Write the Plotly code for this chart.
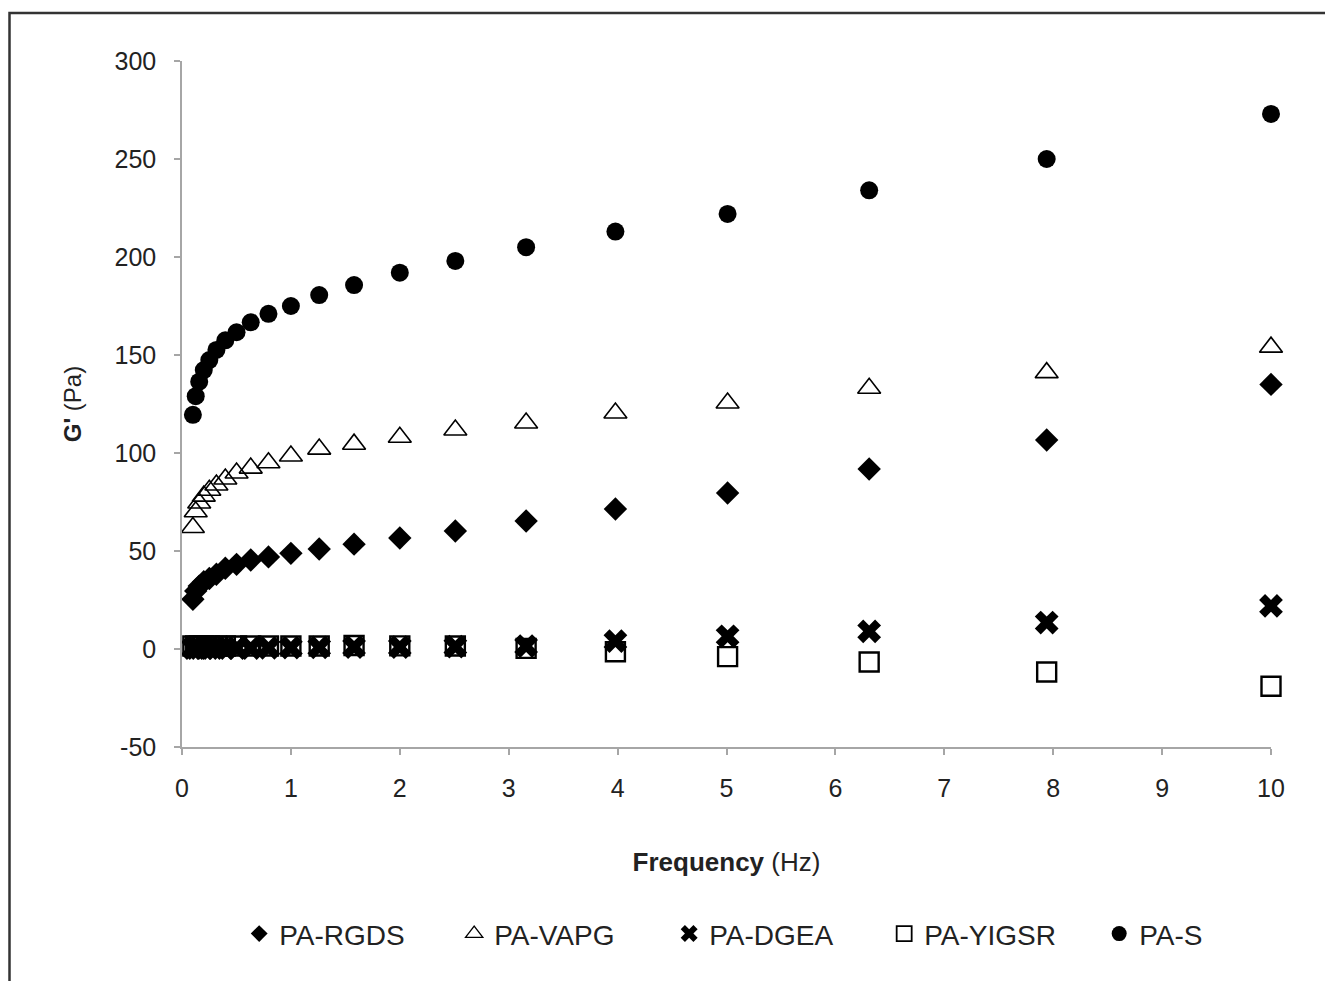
import plotly.graph_objects as go

freq = [0.1, 0.126, 0.158, 0.2, 0.251, 0.316, 0.398, 0.501, 0.631, 0.794,
        1.0, 1.26, 1.58, 2.0, 2.51, 3.16, 3.98, 5.01, 6.31, 7.94, 10.0]

pa_rgds = [25.4, 29.6, 32.1, 34.3, 36.0, 38.1, 41.2, 43.2, 45.4, 47.0,
           48.8, 51.0, 53.5, 56.6, 60.2, 65.3, 71.4, 79.6, 91.8, 106.6, 135.0]
pa_vapg = [62.0, 70.0, 74.5, 78.0, 81.0, 83.7, 86.7, 89.8, 92.3, 95.0,
           98.5, 102.0, 104.5, 108.0, 111.7, 115.3, 120.4, 125.5, 133.0, 141.0, 154.0]
pa_dgea = [0.5, 0.5, 0.5, 0.5, 0.5, 0.5, 0.5, 0.5, 0.5, 0.6,
           0.7, 0.8, 1.0, 1.0, 1.2, 1.5, 4.0, 6.5, 9.0, 13.5, 22.0]
pa_yigsr = [1.5, 1.5, 1.5, 1.5, 1.5, 1.5, 1.5, 1.5, 1.5, 1.5,
            1.5, 1.5, 1.8, 1.6, 1.5, 0.3, -1.4, -3.9, -6.6, -11.7, -19.0]
pa_s = [119.5, 129.0, 136.4, 142.3, 147.4, 152.6, 157.5, 161.6, 166.7, 171.0,
        175.0, 180.6, 185.7, 192.0, 198.0, 205.0, 213.0, 222.0, 234.0, 250.0, 273.0]

names = ["PA-RGDS", "PA-VAPG", "PA-DGEA", "PA-YIGSR", "PA-S"]
series = [pa_rgds, pa_vapg, pa_dgea, pa_yigsr, pa_s]
symbols = ["diamond", "triangle-up-open", "x", "square-open", "circle"]
sizes = [18, 20, 21, 19, 18]
line_w = [0, 1.6, 0, 2.4, 0]
leg_sizes = [13, 15, 15, 15, 15]
leg_line_w = [0, 1.3, 0, 1.8, 0]

x_ticks = list(range(0, 11))
x_tick_text = [str(v) for v in x_ticks]
y_ticks = [-50, 0, 50, 100, 150, 200, 250, 300]
y_tick_text = ["-50", "0", "50", "100", "150", "200", "250", "300"]

FONT = "Liberation Sans, Arial, sans-serif"

fig = go.Figure()
for name, vals, sym, sz, lw in zip(names, series, symbols, sizes, line_w):
    fig.add_trace(go.Scatter(
        x=freq, y=vals, mode="markers", name=name, showlegend=False, cliponaxis=False,
        marker=dict(symbol=sym, size=sz, color="black",
                    line=dict(color="black", width=lw)),
    ))
for name, sym, sz, lw in zip(names, symbols, leg_sizes, leg_line_w):
    fig.add_trace(go.Scatter(
        x=[None], y=[None], mode="markers", name=name, showlegend=True,
        marker=dict(symbol=sym, size=sz, color="black",
                    line=dict(color="black", width=lw)),
    ))

axis_common = dict(
    showgrid=False, zeroline=False, showline=True, linecolor="#a6a6a6", linewidth=1.5,
    ticks="outside", ticklen=6, tickcolor="#a6a6a6", tickwidth=1.5,
    tickfont=dict(family=FONT, size=25, color="#222"),
)

fig.update_layout(
    width=1325, height=973,
    paper_bgcolor="white", plot_bgcolor="white",
    margin=dict(l=174, r=62, t=53, b=234),
    font=dict(family=FONT, color="#222"),
    xaxis=dict(range=[0, 10], tickvals=x_ticks, ticktext=x_tick_text, ticklabelstandoff=12,
               title=dict(text="<b>Frequency</b> (Hz)", font=dict(size=26), standoff=52),
               **axis_common),
    yaxis=dict(range=[-50, 300], tickvals=y_ticks, ticktext=y_tick_text, ticklabelstandoff=13,
               title=dict(text="<b>G'</b> (Pa)", font=dict(size=24), standoff=26),
               **axis_common),
    legend=dict(orientation="h", x=0.0525, xanchor="left", y=-0.236, yanchor="top",
                font=dict(family=FONT, size=28, color="#222"),
                itemwidth=30, tracegroupgap=0, entrywidth=170, entrywidthmode="pixels"),
    shapes=[dict(type="rect", xref="paper", yref="paper",
                 x0=-0.1584, x1=1.2, y0=-0.4, y1=1.07,
                 line=dict(color="#333", width=2.5), fillcolor="rgba(0,0,0,0)")],
)

fig.write_html("out.html")
